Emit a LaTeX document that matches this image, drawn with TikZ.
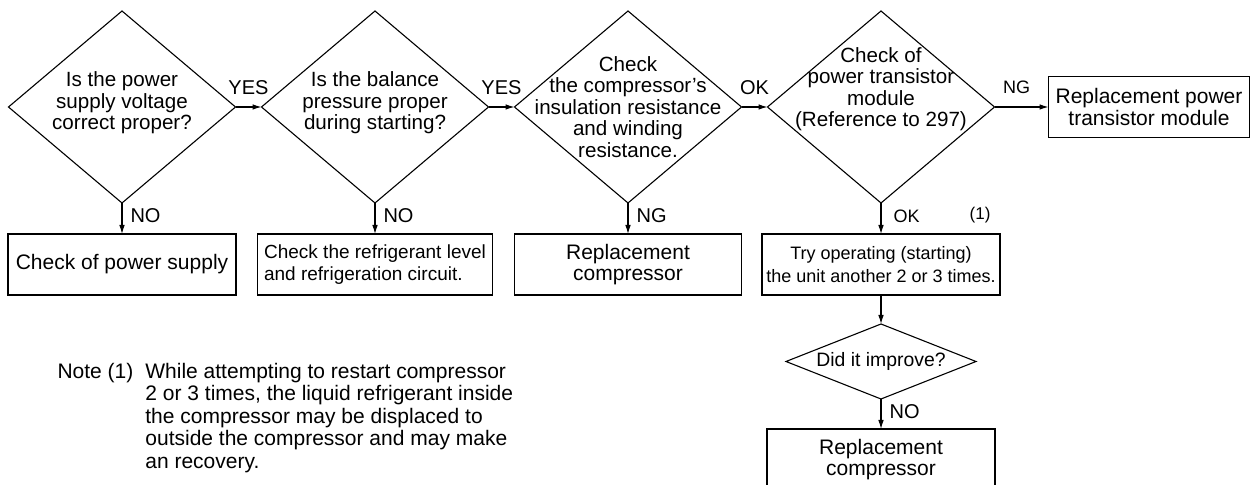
\documentclass[tikz,border=0pt]{standalone}
\usepackage{fontspec}
\setmainfont{Liberation Sans}
\usepackage{tikz}
\usetikzlibrary{shapes.geometric, arrows.meta, positioning}
\newcommand{\qfont}{\fontsize{10.3}{10.75}\selectfont}
\newcommand{\boxfont}{\fontsize{10.5}{10.8}\selectfont}
\newcommand{\lblfont}{\fontsize{10}{12}\selectfont}
\newcommand{\smallfont}{\fontsize{9}{10}\selectfont}
\newcommand{\markfont}{\fontsize{8.5}{10}\selectfont}
\newcommand{\notefont}{\fontsize{10.5}{11.2}\selectfont}
\tikzstyle{decision} = [diamond, draw=black, minimum width=113.5pt, minimum height=96pt, inner sep=0pt, outer sep=0pt]
\tikzstyle{qtext} = [font=\qfont, align=center, inner sep=0pt]
\tikzstyle{process} = [rectangle, draw=black, minimum height=30.5pt, inner sep=1pt, outer sep=0pt, font=\boxfont, align=center]
\tikzstyle{arrow} = [-{Latex[length=4.5pt,width=2.8pt]}]
\tikzstyle{lbl} = [font=\lblfont, inner sep=1pt]

\begin{document}
\begin{tikzpicture}[x=0.5pt, y=-0.5pt, line width=0.55pt]
\useasboundingbox (0,0) rectangle (1256,485);

% top row of checks
\node (voltage) [decision] at (122,107) {};
\node (balance) [decision, right=13pt of voltage] {};
\node (insul) [decision, right=13pt of balance] {};
\node (module) [decision, right=13pt of insul] {};
\node (voltagetext) [qtext, yshift=2pt] at (voltage) {Is the power\\supply voltage\\correct proper?};
\node (balancetext) [qtext, yshift=2pt] at (balance) {Is the balance\\pressure proper\\during starting?};
\node (insultext) [qtext] at (insul) {Check\\the compressor’s\\insulation resistance\\and winding\\resistance.};
\node (moduletext) [qtext, yshift=9pt] at (module) {Check of\\power transistor\\module\\(Reference to 297)};
\node (newmodule) [process, minimum width=100.5pt, right=27pt of module] {Replacement power\\transistor module};

% remedies
\node (supply) [process, minimum width=114pt, below=15.5pt of voltage] {Check of power supply};
\node (refrig) [process, minimum width=117.5pt, below=15.5pt of balance, align=left, font=\fontsize{9.5}{11}\selectfont] {Check the refrigerant level\\and refrigeration circuit.};
\node (newcomp) [process, minimum width=113.5pt, below=15.5pt of insul] {Replacement\\compressor};
\node (retry) [process, minimum width=119pt, below=15.5pt of module, font=\fontsize{9}{11.3}\selectfont] {Try operating (starting)\\the unit another 2 or 3 times.};
\node (mark) [inner sep=1pt, font=\markfont, above left=4pt and 3.5pt of retry.north east] {(1)};
\node (improve) [decision, minimum width=95pt, minimum height=37.5pt, below=14.5pt of retry] {};
\node (improvetext) [qtext, font=\fontsize{9.7}{11}\selectfont] at (improve) {Did it improve?};
\node (newcomp2) [process, minimum width=114pt, below=15pt of improve] {Replacement\\compressor};

\node (note) [anchor=base west, inner sep=0pt, font=\notefont] at (57,378.5) {\begin{tabular}[t]{@{}l@{\hspace{6pt}}l@{}}Note (1) & While attempting to restart compressor\\ & 2 or 3 times, the liquid refrigerant inside\\ & the compressor may be displaced to\\ & outside the compressor and may make\\ & an recovery.\end{tabular}};

\draw [arrow] (voltage) -- node[lbl, above=5pt] {YES} (balance);
\draw [arrow] (balance) -- node[lbl, above=5pt] {YES} (insul);
\draw [arrow] (insul) -- node[lbl, above=5pt] {OK} (module);
\draw [arrow] (module) -- node[lbl, font=\smallfont, above=5.3pt, pos=0.41] {NG} (newmodule);
\draw [arrow] (voltage) -- node[lbl, right=3pt, pos=0.42] {NO} (supply);
\draw [arrow] (balance) -- node[lbl, right=3pt, pos=0.42] {NO} (refrig);
\draw [arrow] (insul) -- node[lbl, right=3pt, pos=0.42] {NG} (newcomp);
\draw [arrow] (module) -- node[lbl, font=\smallfont, right=5pt, pos=0.42] {OK} (retry);
\draw [arrow] (retry) -- (improve);
\draw [arrow] (improve) -- node[lbl, right=3pt, pos=0.42] {NO} (newcomp2);
\end{tikzpicture}
\end{document}
